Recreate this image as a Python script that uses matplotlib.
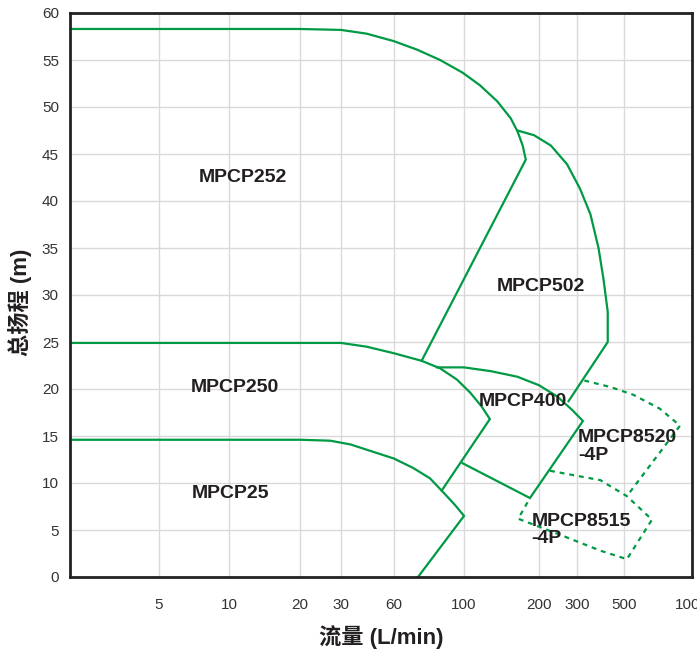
import numpy as np
import matplotlib

matplotlib.use("Agg")
import matplotlib.pyplot as plt

# Flow axis ticks (L/min) and head ticks (m)
flow_ticks = [5, 10, 20, 30, 60, 100, 200, 300, 500, 1000]
head_ticks = list(range(0, 61, 5))
flow_min = 2

# Pump envelopes: flow (L/min), head (m)
mpcp252_flow = [2, 20, 30, 42, 60, 71, 84, 99, 116, 136, 154, 164, 172, 177, 73.4]
mpcp252_head = [58.3, 58.3, 58.2, 57.8, 57.0, 56.1, 55.0, 53.65, 52.3, 50.6, 48.8,
                47.4, 45.9, 44.4, 23.0]

mpcp502_flow = [164, 191, 227, 270, 310, 347, 379, 400, 419, 419, 274]
mpcp502_head = [47.5, 47.0, 45.9, 43.9, 41.3, 38.6, 35.0, 31.7, 28.2, 25.0, 18.7]

mpcp250_flow = [2, 30, 42, 60, 73.4, 84, 95, 106, 118, 127, 85]
mpcp250_head = [24.9, 24.9, 24.5, 23.8, 23.0, 22.2, 21.0, 19.6, 18.1, 16.8, 9.2]

mpcp25_flow = [2, 20, 27, 34, 46, 60, 69, 78, 86, 94, 100, 71.5]
mpcp25_head = [14.6, 14.6, 14.5, 14.1, 13.3, 12.6, 11.6, 10.5, 9.0, 7.6, 6.5, 0]

mpcp400_flow = [82, 100, 128, 164, 200, 243, 284, 320, 184, 99]
mpcp400_head = [22.3, 22.3, 21.9, 21.3, 20.4, 19.2, 17.8, 16.6, 8.4, 12.1]

mpcp8520_flow = [325, 433, 548, 721, 885, 515]
mpcp8520_head = [20.9, 20.2, 19.4, 17.9, 16.1, 8.6]

mpcp8515_flow = [225, 387, 515, 665, 515, 387, 270, 165, 184]
mpcp8515_head = [11.3, 10.3, 8.6, 6.1, 1.9, 2.8, 4.2, 6.2, 8.4]

# Model names and where they are written (flow, head)
solid_labels = ["MPCP252", "MPCP250", "MPCP25", "MPCP502", "MPCP400"]
solid_label_flow = [11.5, 10.6, 10.1, 204, 173]
solid_label_head = [42.5, 20.2, 8.9, 30.9, 18.7]

dash_labels = ["MPCP8520\n-4P", "MPCP8515\n-4P"]
dash_label_flow = [303, 187]
dash_label_head = [13.9, 5.0]

# The printed flow axis is not a clean log scale: tick spacing is uneven,
# so map log(flow) piecewise onto the spacing used in the original.
axis_vals = np.log10([flow_min] + flow_ticks)
axis_pos = np.array([70, 159, 229, 300, 341, 394, 464, 539, 577, 624, 692], dtype=float)


def fwd(x):
    x = np.clip(np.asarray(x, dtype=float), 1e-6, None)
    return np.interp(np.log10(x), axis_vals, axis_pos)


def inv(p):
    return 10 ** np.interp(p, axis_pos, axis_vals)


GREEN = "#009a44"
TEXT = "#231f20"
W, H = 697, 655

fig = plt.figure(figsize=(W / 100, H / 100), dpi=100)
ax = fig.add_axes([70 / W, 78 / H, 622 / W, 564 / H])
ax.set_xscale("function", functions=(fwd, inv))
ax.set_xlim(flow_min, 1000)
ax.set_ylim(0, 60)

ax.set_xticks(flow_ticks)
ax.set_xticklabels([str(v) for v in flow_ticks])
ax.set_xticks([], minor=True)
ax.set_yticks(head_ticks)
ax.grid(True, color="#d9d9d9", linewidth=1.0)
ax.set_axisbelow(True)

for s in ax.spines.values():
    s.set_linewidth(2.0)
    s.set_color("#222222")

ax.tick_params(axis="x", length=0, pad=15, labelsize=11, labelcolor="#333333")
ax.tick_params(axis="y", length=0, pad=8, labelsize=11, labelcolor="#333333")
for lbl in ax.get_xticklabels() + ax.get_yticklabels():
    lbl.set_family(["Liberation Sans Narrow", "Liberation Sans", "DejaVu Sans"])

solid = [
    (mpcp252_flow, mpcp252_head),
    (mpcp502_flow, mpcp502_head),
    (mpcp250_flow, mpcp250_head),
    (mpcp25_flow, mpcp25_head),
    (mpcp400_flow, mpcp400_head),
]
for fx, hy in solid:
    ax.plot(fx, hy, color=GREEN, linewidth=1.6, solid_joinstyle="miter")

for fx, hy in [(mpcp8520_flow, mpcp8520_head), (mpcp8515_flow, mpcp8515_head)]:
    ax.plot(fx, hy, color=GREEN, linewidth=1.6, linestyle=(0, (2.2, 2.2)))

for name, fx, hy in zip(solid_labels, solid_label_flow, solid_label_head):
    ax.text(fx, hy, name, ha="center", va="center", fontsize=14,
            fontweight="bold", family="Liberation Sans", color=TEXT)

for name, fx, hy in zip(dash_labels, dash_label_flow, dash_label_head):
    ax.text(fx, hy, name, ha="left", va="center", fontsize=14, linespacing=1.05,
            fontweight="bold", family="Liberation Sans", color=TEXT)

axis_font = ["Liberation Sans", "Noto Sans CJK SC", "DejaVu Sans"]
fig.text(381 / W, 1 - 637 / H, "流量 (L/min)", ha="center", va="center",
         fontsize=16, fontweight="bold", family=axis_font, color=TEXT)
fig.text(20 / W, 1 - 302 / H, "总扬程 (m)", ha="center", va="center",
         rotation=90, fontsize=16, fontweight="bold", family=axis_font, color=TEXT)

fig.savefig("out.png", dpi=100)
